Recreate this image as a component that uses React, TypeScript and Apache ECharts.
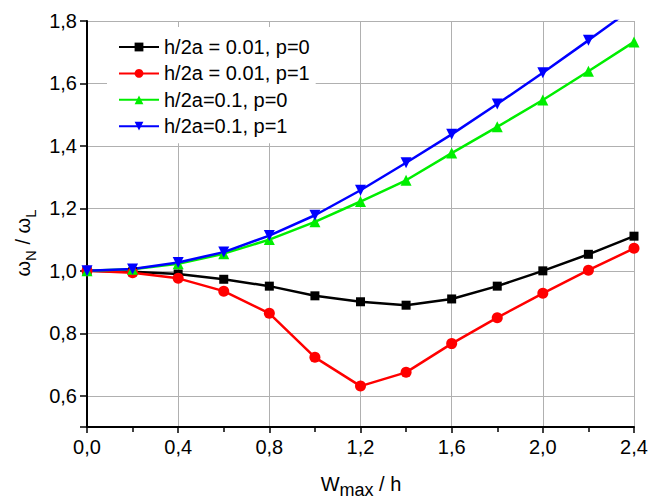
import React, { useEffect, useRef } from "react";
import * as echarts from "echarts";

const xValues = [0, 0.2, 0.4, 0.6, 0.8, 1.0, 1.2, 1.4, 1.6, 1.8, 2.0, 2.2, 2.4];
const black = [1.0, 0.997, 0.99, 0.973, 0.951, 0.92, 0.901, 0.89, 0.91, 0.951, 1.0, 1.053, 1.111];
const red = [1.0, 0.994, 0.976, 0.935, 0.864, 0.723, 0.631, 0.675, 0.767, 0.85, 0.928, 1.002, 1.072];
const green = [1.0, 1.005, 1.023, 1.055, 1.1, 1.157, 1.222, 1.29, 1.377, 1.461, 1.547, 1.639, 1.733];
const blue = [1.0, 1.006, 1.027, 1.06, 1.113, 1.178, 1.258, 1.346, 1.437, 1.534, 1.634, 1.738, 1.844];
const seriesNames = [
  "h/2a = 0.01, p=0",
  "h/2a = 0.01, p=1",
  "h/2a=0.1, p=0",
  "h/2a=0.1, p=1",
];

const FONT = "Liberation Sans, Arial, sans-serif";

export default function App() {
  const ref = useRef<HTMLDivElement>(null);
  useEffect(() => {
    if (!ref.current) return;
    const chart = echarts.init(ref.current, null, { renderer: "svg" });
    const pair = (ys: number[]) => xValues.map((x, i) => [x, ys[i]]);
    const fmt = (v: number) => v.toFixed(1).replace(".", ",");
    const mk = (name: string, ys: number[], color: string, symbol: string, size: number, rot = 0) => ({
      type: "line",
      name,
      data: pair(ys),
      color,
      symbol,
      symbolSize: size,
      symbolRotate: rot,
      lineStyle: { color, width: 2.5 },
      itemStyle: { color },
      clip: true,
    });
    chart.setOption({
      animation: false,
      backgroundColor: "#fff",
      textStyle: { fontFamily: FONT },
      grid: { left: 87, right: 17, top: 21, bottom: 74, containLabel: false },
      legend: {
        orient: "vertical",
        left: 107,
        top: 27,
        padding: [10, 6, 7, 11],
        backgroundColor: "#fff",
        itemWidth: 40,
        itemHeight: 11,
        itemGap: 6.4,
        textStyle: { fontSize: 20, color: "#000", fontFamily: FONT, lineHeight: 20 },
        data: seriesNames,
      },
      xAxis: {
        type: "value",
        min: 0,
        max: 2.4,
        interval: 0.4,
        axisLine: { lineStyle: { color: "#000", width: 2 } },
        axisTick: { show: true, length: 6, lineStyle: { color: "#000", width: 1.5 } },
        minorTick: { show: true, splitNumber: 2, length: 5, lineStyle: { color: "#000", width: 1.5 } },
        axisLabel: { formatter: fmt, fontSize: 20, color: "#000", margin: 10, fontFamily: FONT },
        splitLine: { show: true, lineStyle: { color: "#b0b0b0", width: 1 } },
      },
      yAxis: {
        type: "value",
        min: 0.5,
        max: 1.8,
        splitNumber: 6,
        axisLine: { show: true, lineStyle: { color: "#000", width: 2 } },
        axisTick: { show: true, length: 7, lineStyle: { color: "#000", width: 1.5 } },
        axisLabel: {
          formatter: (v: number) => (Math.abs(v - 0.5) < 1e-6 ? "" : fmt(v)),
          fontSize: 20,
          color: "#000",
          margin: 10,
          fontFamily: FONT,
        },
        splitLine: { show: true, lineStyle: { color: "#b0b0b0", width: 1 } },
      },
      graphic: [
        {
          type: "text",
          x: 23,
          y: 243,
          rotation: Math.PI / 2,
          style: {
            text: "{t|ω}{s|N}{t| / ω}{s|L}",
            align: "center",
            verticalAlign: "middle",
            fill: "#000",
            rich: {
              t: { fontSize: 20, fontFamily: FONT, fill: "#000" },
              s: { fontSize: 15, fontFamily: FONT, fill: "#000", padding: [14, 0, 0, 0] },
            },
          },
        },
        {
          type: "text",
          x: 361,
          y: 484,
          style: {
            text: "{t|W}{s|max}{t| / h}",
            align: "center",
            verticalAlign: "middle",
            fill: "#000",
            rich: {
              t: { fontSize: 20, fontFamily: FONT, fill: "#000" },
              s: { fontSize: 18, fontFamily: FONT, fill: "#000", padding: [12, 0, 0, 0] },
            },
          },
        },
      ],
      series: [
        mk(seriesNames[0], black, "#000000", "rect", 9),
        mk(seriesNames[1], red, "#ff0000", "circle", 11),
        mk(seriesNames[2], green, "#00ee00", "triangle", 11),
        mk(seriesNames[3], blue, "#0000ff", "triangle", 11, 180),
      ],
    });
    return () => chart.dispose();
  }, []);
  return <div ref={ref} style={{ width: 651, height: 501, position: "absolute", left: 0, top: 0 }} />;
}
